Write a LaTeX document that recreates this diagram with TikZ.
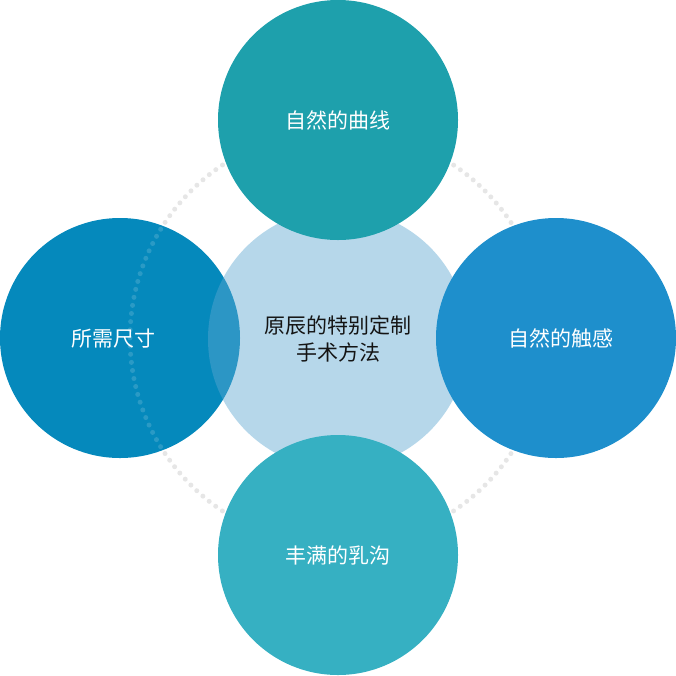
\documentclass[tikz,border=0pt]{standalone}
\usepackage{fontspec}
\newfontfamily\cjk{Noto Sans CJK SC}
\definecolor{topcol}{RGB}{30,160,172}
\definecolor{rightcol}{RGB}{30,143,204}
\definecolor{bottomcol}{RGB}{54,176,194}
\definecolor{leftcol}{RGB}{5,137,188}
\definecolor{centercol}{RGB}{93,167,209}
\definecolor{dotcol}{RGB}{230,230,230}
\definecolor{darktext}{RGB}{20,20,20}
\begin{document}
\begin{tikzpicture}[x=1pt,y=-1pt,
  labelfont/.style={font=\cjk\fontsize{21}{27}\selectfont},
  bigcircle/.style={circle, inner sep=0pt, minimum size=240pt, text=white, labelfont},
  dotring/.style={line width=5pt, line cap=round, dash pattern=on 0pt off 8.17pt}]
\useasboundingbox (0,0) rectangle (676,675);
\coordinate (mid) at (338,338);
% dotted ring
\draw[dotring, dotcol] (mid) circle (208);
% left circle
\node[bigcircle, fill=leftcol] (left) at (120,338) {};
\begin{scope}
  \clip (120,338) circle (120);
  \draw[dotring, white, opacity=0.15] (mid) circle (208);
\end{scope}
\node[text=white, labelfont] (lefttext) at (113,339) {所需尺寸};
% center circle
\node[circle, inner sep=0pt, minimum size=260pt, fill=centercol, fill opacity=0.45,
  text opacity=1, text=darktext, align=center, labelfont] (center) at (338,339) {原辰的特别定制\\手术方法};
% other circles
\node[bigcircle, fill=topcol] (top) at (338,120) {自然的曲线};
\node[bigcircle, fill=rightcol] (right) at (556,338) {};
\node[text=white, labelfont] (righttext) at (561,338) {自然的触感};
\node[bigcircle, fill=bottomcol] (bottom) at (338,555) {丰满的乳沟};
\end{tikzpicture}
\end{document}
